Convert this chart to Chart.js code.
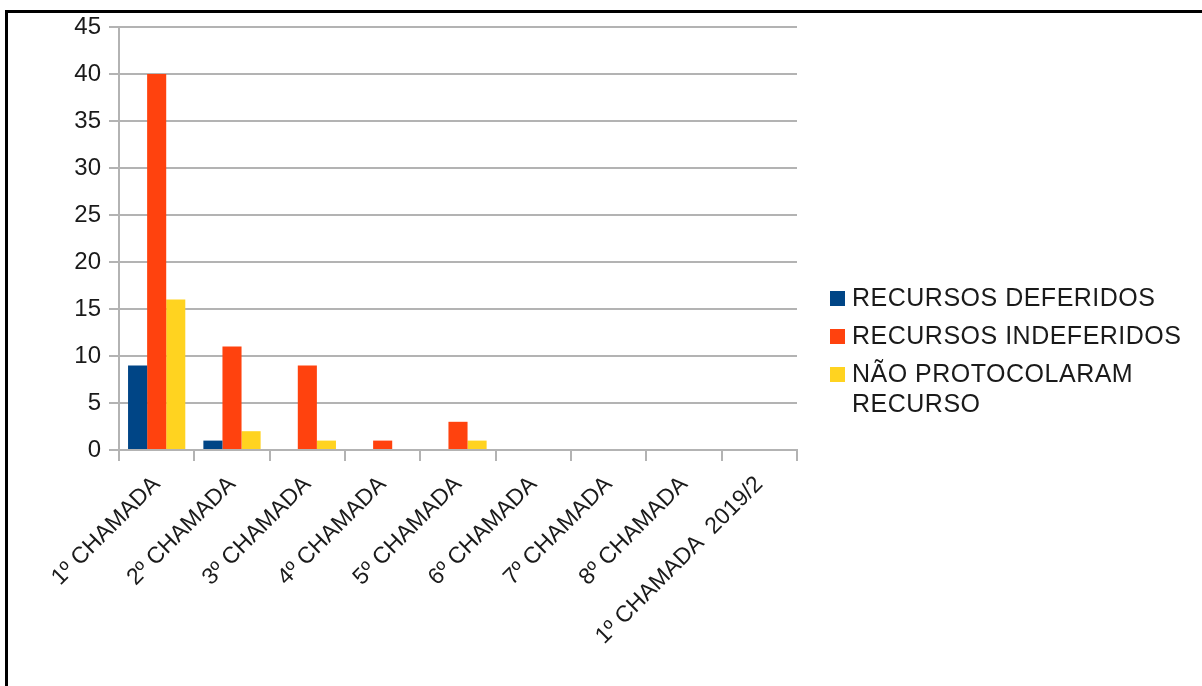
<!DOCTYPE html>
<html>
<head>
<meta charset="utf-8">
<script src="https://cdn.jsdelivr.net/npm/chart.js@4"></script>
<style>
  html, body { margin: 0; padding: 0; background: #fff; }
  #wrap { position: relative; width: 1202px; height: 686px; overflow: hidden; }
  #frame { position: absolute; left: 5px; top: 10px; width: 1300px; height: 800px;
           border-top: 3px solid #000; border-left: 3px solid #000; }
  #legenda { position: absolute; left: 830px; top: 282px; font-family: "Liberation Sans", Arial, sans-serif;
             font-size: 25px; letter-spacing: 0.5px; color: #1a1a1a; }
  #legenda .item { position: relative; padding-left: 22px; line-height: 30px; margin-bottom: 8px; width: 350px; }
  #legenda .box { position: absolute; left: 0; top: 9px; width: 15px; height: 15px; }
</style>
</head>
<body>
<div id="wrap">
  <canvas id="grafico" width="1202" height="686"></canvas>
  <div id="frame"></div>
  <div id="legenda"></div>
</div>
<script>
// chamadas e quantidade de recursos em cada uma
const chamadas = ['1º CHAMADA', '2º CHAMADA', '3º CHAMADA', '4º CHAMADA', '5º CHAMADA',
                  '6º CHAMADA', '7º CHAMADA', '8º CHAMADA', '1º CHAMADA  2019/2'];
const deferidos = [9, 1, 0, 0, 0, 0, 0, 0, 0];
const indeferidos = [40, 11, 9, 1, 3, 0, 0, 0, 0];
const naoProtocolaram = [16, 2, 1, 0, 1, 0, 0, 0, 0];
const nomesSeries = ['RECURSOS DEFERIDOS', 'RECURSOS INDEFERIDOS', 'NÃO PROTOCOLARAM\nRECURSO'];
const cores = ['#004586', '#ff420e', '#ffd320'];

const cinza = '#b3b3b3';
const fonte = '"Liberation Sans", Arial, sans-serif';

const ctx = document.getElementById('grafico').getContext('2d');
const grafico = new Chart(ctx, {
  type: 'bar',
  data: {
    labels: chamadas,
    datasets: [deferidos, indeferidos, naoProtocolaram].map((valores, i) => ({
      label: nomesSeries[i],
      data: valores,
      backgroundColor: cores[i],
      borderWidth: 0,
      categoryPercentage: 0.76,
      barPercentage: 1
    }))
  },
  options: {
    responsive: false,
    animation: false,
    layout: { padding: { top: 27, right: 405, left: 0, bottom: 0 } },
    plugins: { legend: { display: false }, tooltip: { enabled: false } },
    scales: {
      x: {
        afterFit: s => { s.height = 236; },
        grid: {
          offset: true,
          // só as bordas do gráfico aparecem dentro da área; o resto são marcas
          color: c => (c.index === 0 || c.index === chamadas.length) ? cinza : 'rgba(0,0,0,0)',
          tickColor: cinza,
          tickLength: 11,
          lineWidth: 2
        },
        border: { color: cinza, width: 2 },
        ticks: {
          minRotation: 45, maxRotation: 45, autoSkip: false,
          color: '#1a1a1a', padding: 10,
          font: { family: fonte, size: 23 }
        }
      },
      y: {
        min: 0, max: 45,
        afterFit: s => { s.width = 119; },
        grid: { color: cinza, tickLength: 10, lineWidth: 2 },
        border: { color: cinza, width: 2 },
        ticks: {
          stepSize: 5, color: '#1a1a1a', padding: 8,
          font: { family: fonte, size: 24 }
        }
      }
    }
  }
});

// legenda à direita com quebra de linha no último item
const legenda = document.getElementById('legenda');
nomesSeries.forEach((nome, i) => {
  const item = document.createElement('div');
  item.className = 'item';
  const box = document.createElement('span');
  box.className = 'box';
  box.style.background = cores[i];
  item.appendChild(box);
  nome.split('\n').forEach((linha, j) => {
    if (j > 0) item.appendChild(document.createElement('br'));
    item.appendChild(document.createTextNode(linha));
  });
  legenda.appendChild(item);
});
</script>
</body>
</html>
